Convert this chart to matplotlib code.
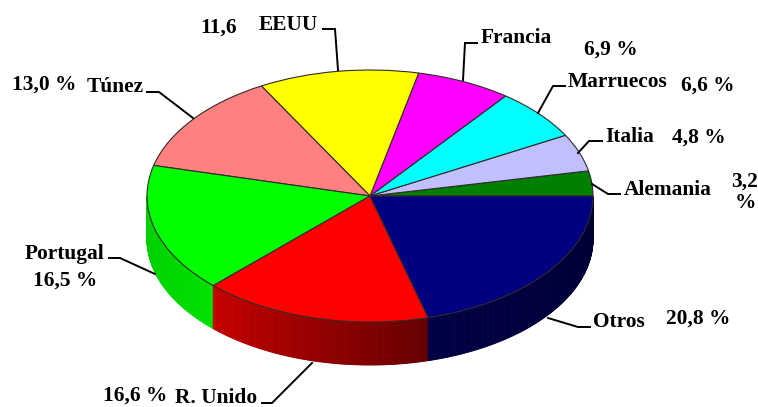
import numpy as np
import matplotlib
matplotlib.use('Agg')
import matplotlib.pyplot as plt
from matplotlib.transforms import Affine2D

plt.rcParams['font.family'] = ['Liberation Serif', 'DejaVu Serif']

# share of each country, counter clockwise from the right
paises = ['Alemania', 'Italia', 'Marruecos', 'Francia', 'EEUU', 'Túnez', 'Portugal', 'R. Unido', 'Otros']
valores = [3.2, 4.8, 6.6, 6.9, 11.6, 13.0, 16.5, 16.6, 20.8]
colores = ['#008000', '#c0c0ff', '#00ffff', '#ff00ff', '#ffff00', '#ff8080', '#00ff00', '#ff0000', '#000080']

# side wall shade, left end and right end of each slice
lado_ini = [(0, .3, 0), (.4, .4, .6), (0, .5, .5), (.5, 0, .5), (.5, .5, 0), (.5, .25, .25), (0, .80, 0), (.78, 0, 0), (0, 0, .27)]
lado_fin = [(0, .3, 0), (.4, .4, .6), (0, .5, .5), (.5, 0, .5), (.5, .5, 0), (.5, .25, .25), (0, .88, 0), (.40, 0, 0), (0, 0, .20)]

cx, cy = 370, 196
rx, ry = 223, 126
alto = 43

fig = plt.figure(figsize=(7.58, 4.07), dpi=100)
ax = fig.add_axes([0, 0, 1, 1])

wedges, _ = ax.pie(valores, colors=colores, startangle=0, counterclock=True,
                   wedgeprops=dict(edgecolor='#332a2a', linewidth=0.8))
ax.set_aspect('auto')
ax.set_xlim(0, 758)
ax.set_ylim(407, 0)
ax.axis('off')

elipse = Affine2D().scale(rx, -ry).translate(cx, cy) + ax.transData
for w in wedges:
    w.set_transform(elipse)
    w.set_zorder(3)

# side wall, only the front half shows
limites = np.cumsum([0] + valores) / sum(valores) * 360
for i in range(len(valores)):
    a0 = max(limites[i], 180)
    a1 = limites[i + 1]
    if a1 <= a0:
        continue
    pasos = np.linspace(a0, a1, int(a1 - a0) * 2 + 2)
    for k in range(len(pasos) - 1):
        t = k / max(len(pasos) - 2, 1)
        c = np.array(lado_ini[i]) * (1 - t) + np.array(lado_fin[i]) * t
        tt = np.radians([pasos[k], pasos[k + 1]])
        xs = cx + rx * np.cos(tt)
        ys = cy - ry * np.sin(tt)
        ax.fill([xs[0], xs[1], xs[1], xs[0]], [ys[0], ys[1], ys[1] + alto, ys[0] + alto],
                facecolor=c, edgecolor=c, lw=0.7, zorder=2)

# leader lines
guias = {
    'Francia': ([463, 465, 477], [80, 43, 43]),
    'Marruecos': ([538, 553, 565], [113, 86, 86]),
    'Italia': ([578, 589, 602], [153, 141, 141]),
    'Alemania': ([592, 608, 620], [184, 194, 194]),
    'Otros': ([548, 578, 590], [318, 327, 327]),
    'R. Unido': ([312, 272, 262], [363, 403, 403]),
    'Portugal': ([155, 120, 109], [274, 258, 258]),
    'Túnez': ([193, 159, 147], [118, 92, 92]),
    'EEUU': ([338, 335, 323], [70, 29, 29]),
}
for k in guias:
    ax.plot(guias[k][0], guias[k][1], color='black', lw=1.4, zorder=4, solid_joinstyle='miter')

# labels
textos = [
    ('Francia', 481, 38), ('6,9 %', 584, 50),
    ('Marruecos', 568, 82), ('6,6 %', 681, 86),
    ('Italia', 605, 137), ('4,8 %', 672, 138),
    ('Alemania', 624, 190),
    ('Otros', 593, 322), ('20,8 %', 666, 319),
    ('R. Unido', 175, 398), ('16,6 %', 103, 396),
    ('Portugal', 25, 254), ('16,5 %', 33, 281),
    ('Túnez', 87, 87), ('13,0 %', 12, 85),
    ('11,6', 200, 28), ('EEUU', 259, 25),
]
for s, x, y in textos:
    ax.text(x, y, s, fontsize=15.4, fontweight='bold', ha='left', va='center', color='black', zorder=5)
ax.text(745, 192, '3,2\n%', fontsize=15.4, fontweight='bold', ha='center', va='center',
        linespacing=1.1, color='black', zorder=5)

fig.savefig('out.png', dpi=100)
